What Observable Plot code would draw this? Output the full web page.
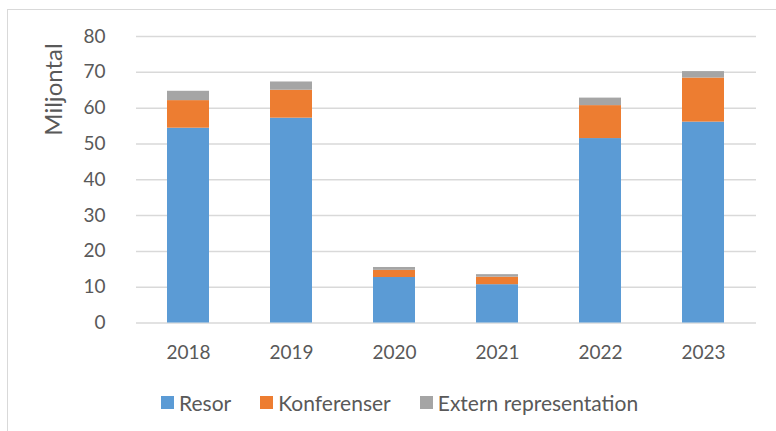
<!DOCTYPE html>
<html>
<head>
<meta charset="utf-8">
<script src="https://cdn.jsdelivr.net/npm/d3@7"></script>
<script src="https://cdn.jsdelivr.net/npm/@observablehq/plot@0.6"></script>
<style>
  html, body { margin: 0; padding: 0; background: #fff; }
  body { width: 776px; height: 431px; overflow: hidden; position: relative; font-family: Lato, "Open Sans", sans-serif; }
  .frame { position: absolute; left: 7px; top: 9px; width: 820px; height: 500px; border: 1.5px solid #d9d9d9; box-sizing: border-box; }
  #chart { position: absolute; left: 0; top: 0; }
  #legend { position: absolute; left: 161px; top: 390px; display: flex; align-items: center; color: #595959; font-size: 21px; font-family: Lato, sans-serif; }
  #legend .item { display: flex; align-items: center; margin-right: 29px; }
  #legend .sw { width: 13px; height: 13px; margin-right: 5px; }
</style>
</head>
<body>
<div class="frame"></div>
<div id="chart"></div>
<div id="legend"></div>
<script>
const years = ["2018", "2019", "2020", "2021", "2022", "2023"];
const seriesNames = ["Resor", "Konferenser", "Extern representation"];
const seriesColors = ["#5B9BD5", "#ED7D31", "#A5A5A5"];
const resor = [54.4, 57.2, 12.7, 10.7, 51.5, 56.1];
const konferenser = [7.7, 7.8, 2.0, 2.1, 9.2, 12.3];
const extern = [2.6, 2.3, 0.8, 0.7, 2.1, 1.8];
const yTicks = [0, 10, 20, 30, 40, 50, 60, 70, 80];
const yLabel = "Miljontal";

const seriesValues = [resor, konferenser, extern];
const data = [];
years.forEach((yr, i) => {
  seriesNames.forEach((s, j) => data.push({year: yr, series: s, value: seriesValues[j][i]}));
});

const textColor = "#595959";
const chart = Plot.plot({
  width: 776,
  height: 380,
  marginLeft: 136,
  marginRight: 20,
  marginTop: 36,
  marginBottom: 57.5,
  style: {fontFamily: "Lato, sans-serif", fontSize: "19px", color: textColor, background: "transparent"},
  x: {type: "band", domain: years, paddingInner: 0.59, paddingOuter: 0.295, label: null},
  y: {domain: [0, 80], label: null},
  color: {domain: seriesNames, range: seriesColors},
  marks: [
    Plot.gridY(yTicks, {stroke: "#d9d9d9", strokeOpacity: 1, strokeWidth: 1.5}),
    Plot.barY(data, {x: "year", y: "value", fill: "series", order: seriesNames}),
    Plot.axisY(yTicks, {tickSize: 0, tickPadding: 31, label: null, fill: textColor, fontSize: 19}),
    Plot.axisX({tickSize: 0, tickPadding: 22, label: null, fill: textColor, fontSize: 19}),
    Plot.text([yLabel], {frameAnchor: "top-left", dx: -82, dy: 53, rotate: -90, textAnchor: "middle", lineAnchor: "middle", fontSize: 24, fill: textColor})
  ]
});
document.getElementById("chart").appendChild(chart);

const legend = document.getElementById("legend");
seriesNames.forEach((s, j) => {
  const item = document.createElement("div");
  item.className = "item";
  const sw = document.createElement("div");
  sw.className = "sw";
  sw.style.background = seriesColors[j];
  const t = document.createElement("span");
  t.textContent = s;
  item.appendChild(sw);
  item.appendChild(t);
  legend.appendChild(item);
});
</script>
</body>
</html>
